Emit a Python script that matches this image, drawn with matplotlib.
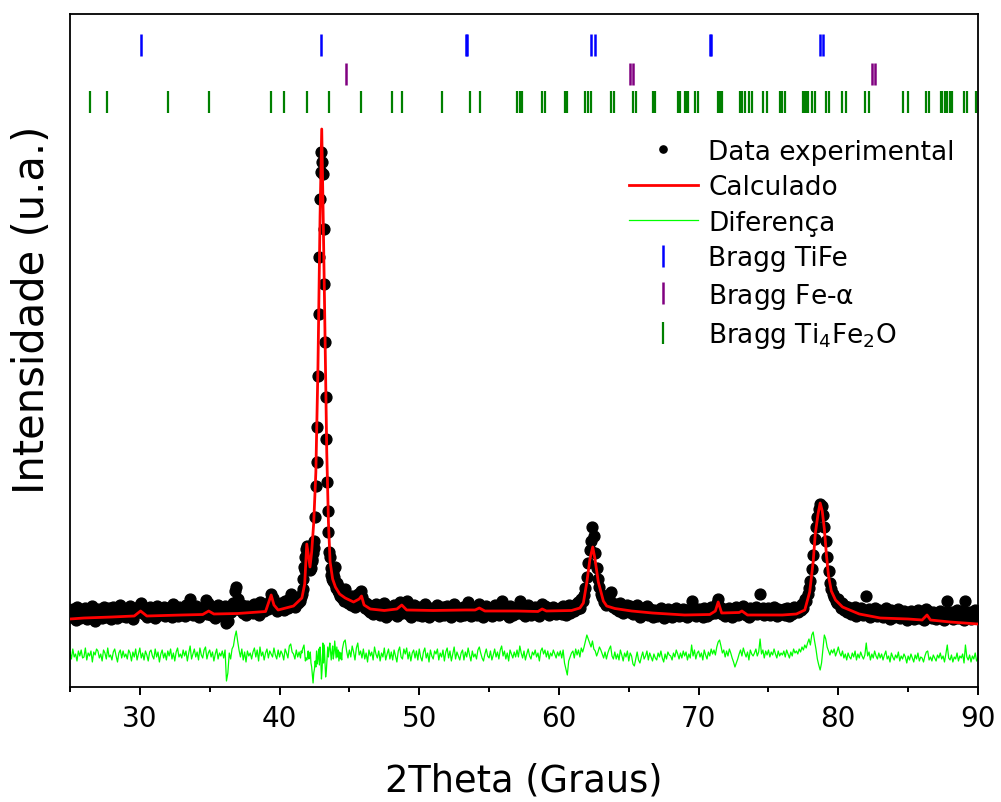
import numpy as np
import matplotlib.pyplot as plt
from matplotlib.ticker import MultipleLocator

plt.rcParams['font.family'] = 'DejaVu Sans'
plt.rcParams['mathtext.default'] = 'regular'

# 2theta grid: 0.1 deg steps, 0.05 deg steps across the main TiFe peak
tt_lo = np.arange(250, 415) / 10.0      # 25.0 - 41.4
tt_pk = np.arange(830, 890) / 20.0      # 41.5 - 44.45
tt_hi = np.arange(445, 901) / 10.0      # 44.5 - 90.0

# observed intensity (a.u.)
obs_lo = [
    75, 70, 78, 72, 67, 80, 73, 69, 76, 71,
    72, 79, 68, 74, 77, 70, 81, 73, 66, 75,
    78, 71, 74, 69, 80, 76, 70, 73, 79, 68,
    74, 80, 72, 77, 69, 75, 82, 71, 76, 73,
    70, 78, 75, 81, 72, 68, 77, 74, 79, 76,
    82, 84, 76, 73, 79, 70, 75, 80, 72, 77,
    74, 69, 81, 76, 72, 78, 73, 80, 71, 75,
    79, 72, 76, 70, 83, 74, 77, 71, 80, 75,
    73, 78, 71, 82, 76, 80, 88, 79, 72, 77,
    81, 75, 70, 78, 74, 79, 76, 87, 73, 84,
    78, 72, 80, 75, 69, 77, 82, 74, 79, 71,
    76, 81, 64, 66, 78, 75, 79, 84, 96, 100,
    88, 80, 77, 82, 74, 79, 72, 81, 76, 78,
    80, 74, 83, 77, 79, 72, 85, 78, 81, 76,
    79, 83, 78, 86, 93, 89, 84, 80, 76, 82,
    78, 84, 80, 77, 86, 82, 79, 88, 93, 85,
    83, 80, 87, 84, 90,
]
obs_pk = [
    86, 90, 93, 98, 108, 120, 117, 130, 138, 141,
    132, 128, 121, 117, 124, 119, 128, 126, 134, 139,
    146, 170, 201, 225, 260, 311, 373, 430, 488, 515,
    535, 525, 513, 458, 403, 345, 290, 248, 205, 176,
    155, 135, 130, 119, 112, 108, 114, 106, 110, 120,
    103, 99, 104, 96, 101, 94, 97, 91, 95, 89,
]
obs_hi = [
    92, 86, 98, 90, 84,
    88, 82, 91, 85, 80, 87, 93, 84, 96, 90,
    86, 79, 84, 77, 82, 75, 80, 73, 78, 83,
    76, 81, 72, 79, 74, 84, 70, 77, 80, 73,
    78, 74, 82, 76, 71, 80, 85, 79, 74, 81,
    77, 86, 73, 79, 70, 76, 82, 74, 78, 72,
    80, 75, 71, 78, 83, 74, 77, 70, 79, 75,
    73, 79, 76, 82, 71, 77, 74, 80, 72, 78,
    81, 74, 78, 70, 76, 83, 73, 79, 75, 71,
    77, 80, 72, 78, 74, 85, 76, 71, 79, 74,
    76, 72, 80, 83, 78, 74, 70, 77, 81, 75,
    73, 79, 71, 76, 82, 74, 78, 72, 80, 86,
    75, 79, 73, 77, 70, 81, 76, 72, 78, 74,
    80, 74, 86, 77, 73, 79, 71, 76, 82, 75,
    72, 78, 75, 80, 74, 77, 71, 79, 83, 76,
    81, 75, 79, 72, 77, 74, 80, 76, 73, 78,
    75, 79, 73, 81, 76, 72, 78, 82, 74, 77,
    80, 76, 83, 78, 85, 79, 88, 86, 92, 99,
    110, 124, 137, 146, 160, 151, 134, 119, 108, 100,
    93, 90, 85, 88, 82, 86, 91, 95, 84, 80,
    83, 78, 81, 76, 84, 79, 74, 80, 77, 82,
    75, 81, 78, 73, 79, 76, 82, 74, 70, 77,
    79, 73, 76, 81, 72, 78, 75, 70, 77, 74,
    71, 77, 74, 79, 73, 69, 76, 72, 78, 75,
    74, 70, 77, 73, 79, 75, 71, 76, 72, 78,
    73, 77, 70, 75, 72, 86, 74, 79, 71, 76,
    78, 72, 76, 70, 79, 74, 71, 77, 73, 80,
    75, 79, 74, 84, 88, 80, 76, 73, 78, 71,
    77, 73, 79, 75, 70, 78, 74, 80, 72, 76,
    78, 74, 81, 76, 72, 77, 70, 79, 75, 73,
    76, 80, 73, 77, 93, 75, 79, 72, 78, 74,
    79, 72, 77, 74, 80, 75, 71, 78, 73, 76,
    74, 78, 72, 79, 75, 71, 77, 73, 80, 76,
    78, 75, 80, 77, 83, 79, 88, 86, 93, 99,
    106, 118, 132, 148, 160, 170, 178, 183, 181, 172,
    160, 146, 130, 116, 104, 98, 93, 90, 86, 84,
    88, 82, 79, 84, 77, 81, 75, 80, 76, 73,
    78, 74, 80, 71, 77, 73, 79, 75, 72, 76,
    91, 74, 78, 70, 76, 72, 79, 74, 71, 77,
    72, 76, 70, 75, 79, 71, 74, 68, 77, 73,
    70, 75, 72, 78, 69, 74, 71, 76, 73, 67,
    74, 70, 76, 72, 68, 75, 71, 77, 69, 73,
    71, 67, 74, 78, 76, 70, 73, 69, 75, 72,
    68, 74, 71, 76, 70, 73, 67, 75, 86, 72,
    70, 75, 68, 73, 71, 77, 69, 74, 72, 76,
    67, 86, 73, 70, 75, 68, 74, 71, 77, 69,
    72,
]

# difference obs - calc (same grid)
dif_lo = [
    3, -4, 6, -2, 1, -6, 4, -1, 5, -3,
    -2, 7, -5, 2, -1, 4, -7, 3, 0, 6,
    4, -3, 1, -6, 5, 2, -4, 7, -2, 0,
    -5, 3, 6, -1, -7, 2, 5, -3, 4, -2,
    1, -4, 5, 2, -6, 3, -2, 6, -5, 1,
    7, -3, 2, -5, 4, 0, -6, 3, 5, -1,
    -4, 6, -2, 3, -7, 1, 5, -3, 2, -5,
    4, -1, 6, -4, 2, -6, 3, 7, -2, 1,
    -3, 5, -1, 4, -6, 2, 9, -4, 1, 6,
    -2, 3, -5, 7, 0, -3, 5, 8, -4, 2,
    5, -2, 3, -6, 1, 6, -4, 2, -1, 4,
    -3, 5, -26, -18, 2, -4, 6, 9, 18, 24,
    14, 5, -2, 6, -5, 3, -7, 4, -1, 2,
    -4, 3, 7, -2, 5, -6, 8, -1, 3, -5,
    2, 6, -3, 4, 1, -2, 7, 0, -4, 5,
    -2, 4, 1, -5, 6, 2, -3, 9, 11, 3,
    1, -4, 5, -2, 3,
]
dif_pk = [
    -3, 4, 2, 6, 8, 10, 2, -6, -3, -5,
    -2, 4, -4, -1, 3, -8, -12, -20, -28, -18,
    -14, -6, -12, 4, -9, -3, 6, -10, 8, -4,
    -24, -14, 12, -8, 10, -6, -22, -16, -4, 8,
    -2, 6, 12, 4, -5, 3, 9, -4, 2, 14,
    6, -3, 8, -2, 5, -6, 3, -4, 2, -5,
]
dif_hi = [
    6, 13, 15, 4, -3,
    5, -2, 9, 3, -5, 7, 12, 0, 4, -3,
    6, -4, 2, -7, 5, -1, 3, -5, 8, 1,
    -3, 4, -6, 2, -2, 7, -5, 1, 6, -4,
    3, -5, 5, -1, -7, 4, 8, -2, -4, 6,
    1, 7, -4, 3, -6, 2, 5, -3, 4, -5,
    6, -2, -6, 3, 7, -3, 2, -7, 5, -1,
    -4, 4, 1, 6, -5, 2, -2, 5, -6, 3,
    7, -3, 4, -6, 1, 8, -4, 3, -1, -5,
    2, 5, -5, 3, -2, 7, 0, -6, 4, -2,
    1, -4, 5, 8, 2, -3, -6, 1, 6, -1,
    -3, 4, -5, 0, 6, -2, 3, -4, 5, 9,
    -1, 4, -4, 2, -6, 5, 1, -3, 3, -2,
    5, -2, 9, 2, -3, 4, -5, 1, 6, -1,
    -4, 3, 0, 5, -2, 2, -6, 4, 7, 1,
    5, -2, 4, -4, 2, -1, 5, 1, -3, 3,
    -1, 4, -3, 5, -8, -14, -20, -6, -2, 2,
    4, -3, 6, 0, 5, -2, 7, 3, 8, 14,
    20, 16, 12, 8, 14, 6, 4, -1, 3, 8,
    5, 1, -3, 3, -4, 2, 6, 9, -1, -4,
    3, -4, 1, -5, 5, 0, -6, 2, -2, 4,
    -6, 2, -1, -9, -11, -4, 3, -5, -8, -2,
    3, -4, -1, 4, -5, 2, -2, -6, 1, -3,
    -5, 2, -2, 4, -3, -7, 1, -4, 3, 0,
    -1, -5, 2, -2, 5, 1, -4, 2, -3, 4,
    -1, 3, -5, 1, -3, 10, -1, 5, -4, 2,
    4, -2, 2, -5, 5, 0, -4, 3, -1, 6,
    1, 5, 0, 8, 13, 15, 9, 2, 5, -2,
    4, -1, 6, 2, -3, -7, -12, -8, -4, 1,
    5, -1, 7, 2, -2, 3, -5, 5, 1, -1,
    2, 6, -1, 3, 16, 1, 5, -3, 4, 0,
    5, -2, 3, 0, 6, 1, -3, 4, -1, 2,
    0, 4, -2, 5, 1, -3, 3, -1, 6, 2,
    4, 1, 6, 3, 8, 5, 10, 7, 12, 16,
    10, 20, 23, 14, 6, -4, -10, -15, -8, 6,
    20, 16, 8, 4, 0, 5, 2, 6, -1, 3,
    8, 2, -1, 4, -3, 1, -5, 2, -2, -4,
    2, -2, 4, -5, 1, -3, 3, -1, -4, 0,
    12, -1, 3, -5, 1, -3, 4, -1, -4, 2,
    -3, 1, -5, 0, 4, -4, -1, -7, 2, -2,
    -5, 0, -3, 3, -6, -1, -4, 1, -2, -8,
    -1, -5, 1, -3, -7, 0, -4, 2, -6, -2,
    -3, -7, -1, 3, 4, -5, -2, -6, 0, -3,
    -6, 0, -3, 2, -4, -1, -7, 1, 10, -3,
    -5, 0, -7, -2, -4, 2, -6, -1, -3, 1,
    -8, 10, -2, -5, 0, -7, -1, -4, 2, -6,
    -3,
]

# calculated (Rietveld) profile
calc_tt = [25.0, 26.0, 28.0, 29.6, 30.05, 30.5, 33.0, 34.5, 34.93, 35.3,
           37.0, 39.0, 39.4, 39.6, 39.9, 41.0, 41.6, 41.8, 41.95, 42.18,
           42.3, 42.45, 42.6, 42.75, 42.9, 43.02, 43.12, 43.22, 43.38, 43.5,
           43.62, 43.8, 44.0, 44.3, 44.7, 45.3, 45.7, 45.87, 46.05, 46.5,
           47.5, 48.4, 48.75, 49.1, 51.0, 53.3, 54.0, 54.3, 54.7, 57.0,
           58.5, 58.8, 59.1, 60.9, 61.5, 61.75, 62.0, 62.22, 62.42, 62.58,
           62.82, 63.18, 63.42, 64.0, 65.2, 66.7, 69.0, 70.8, 71.2, 71.4,
           71.65, 72.9, 73.1, 73.5, 76.0, 77.0, 77.6, 77.95, 78.2, 78.35,
           78.55, 78.7, 78.85, 79.0, 79.15, 79.3, 79.5, 79.8, 80.3, 81.5,
           83.0, 85.0, 86.0, 86.35, 86.6, 88.0, 90.0]
calc_I = [68, 69, 70, 71, 76, 71, 72, 72.5, 76, 73,
          73.5, 75.5, 92, 82, 77, 81, 89, 103, 143, 120,
          135, 165, 215, 320, 470, 558, 475, 385, 235, 165,
          125, 108, 100, 93, 89, 85, 88, 91, 82, 78,
          76.5, 78, 82, 77, 76.5, 77, 77, 79, 76, 76,
          75.5, 78, 76, 76.5, 79, 84, 105, 128, 140, 128,
          105, 86, 81, 78.5, 76, 74, 72, 72.5, 76, 85,
          74, 74.5, 76, 72, 72, 73, 77, 95, 125, 153,
          173, 184, 176, 158, 132, 111, 96, 87, 80, 73,
          69, 68, 67, 72, 67, 65, 63]

# Bragg reflection positions (2theta)
bragg_tife = [30.05, 43.0, 53.32, 53.42, 62.32, 62.58, 70.78, 70.92, 78.71, 78.9]
bragg_fe = [44.76, 65.09, 65.33, 82.38, 82.63]
bragg_ti4fe2o = [26.43, 27.63, 31.99, 34.93, 39.41, 40.32, 41.95, 43.52, 45.85,
                 48.05, 48.79, 51.61, 53.66, 54.33, 57.0, 57.2, 57.38, 58.82,
                 58.98, 60.45, 60.58, 61.9, 62.05, 62.3, 63.76, 63.94, 65.33,
                 65.52, 66.71, 66.9, 68.5, 68.69, 69.03, 69.15, 69.26, 69.74,
                 69.98, 71.38, 71.5, 71.68, 72.94, 73.1, 73.29, 73.6, 73.82,
                 74.64, 74.87, 75.85, 76.0, 76.18, 77.5, 77.6, 77.76, 77.85,
                 78.1, 78.32, 79.15, 79.35, 80.25, 80.52, 81.9, 82.2, 84.63,
                 84.96, 86.28, 86.52, 87.38, 87.43, 87.64, 87.8, 87.98, 88.14,
                 89.0, 89.24, 89.86]

tt = np.concatenate([tt_lo, tt_pk, tt_hi])
obs = np.array(obs_lo + obs_pk + obs_hi, dtype=float)
dif = np.array(dif_lo + dif_pk + dif_hi, dtype=float)

dif_offset = 32
row_tife, row_fe, row_ti4 = 642, 613, 585

fig = plt.figure(figsize=(10.01, 8.03), dpi=100)
ax = fig.add_axes([70 / 1001, 115 / 803, 908 / 1001, 673 / 803])

ax.plot(tt, obs, 'o', color='black', ms=7.8, mec='black', label='Data experimental', zorder=2)
ax.plot(calc_tt, calc_I, '-', color='red', lw=2.0, label='Calculado', zorder=3)
ax.plot(tt, dif + dif_offset, '-', color='#00ff00', lw=0.9, label='Diferença', zorder=2)
ax.plot(bragg_tife, [row_tife] * len(bragg_tife), '|', color='blue', ms=16, mew=1.8,
        label='Bragg TiFe')
ax.plot(bragg_fe, [row_fe] * len(bragg_fe), '|', color='purple', ms=16, mew=1.8,
        label=r'Bragg Fe-$\alpha$')
ax.plot(bragg_ti4fe2o, [row_ti4] * len(bragg_ti4fe2o), '|', color='green', ms=16, mew=1.6,
        label='Bragg Ti$_4$Fe$_2$O')

ax.set_xlim(25, 90)
ax.set_ylim(0, 673)
ax.set_yticks([])
ax.xaxis.set_major_locator(MultipleLocator(10))
ax.xaxis.set_minor_locator(MultipleLocator(5))
ax.tick_params(axis='x', which='major', direction='out', length=6, width=1.4,
               labelsize=20, pad=6)
ax.tick_params(axis='x', which='minor', direction='out', length=3.5, width=1.4)
for s in ax.spines.values():
    s.set_linewidth(1.3)

ax.set_xlabel('2Theta (Graus)', fontsize=26.5, va='top')
ax.xaxis.set_label_coords(0.5, -0.11)
ax.set_ylabel('Intensidade (u.a.)', fontsize=30)
ax.yaxis.set_label_coords(-0.019, 0.562)

leg = ax.legend(loc='upper left', bbox_to_anchor=(0.6156, 0.815), frameon=False,
                fontsize=19, handlelength=2.6, handletextpad=0.4, labelspacing=0.36,
                borderpad=0, borderaxespad=0, numpoints=1)
leg.legend_handles[0].set_markersize(5.2)

fig.savefig('out.png', dpi=100)
